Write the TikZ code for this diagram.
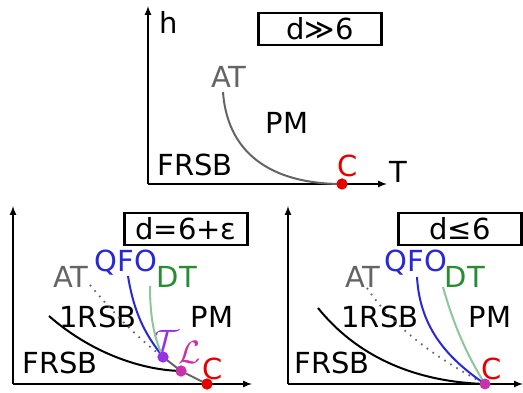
\documentclass[tikz,border=0pt]{standalone}
\usepackage{fontspec}
\setmainfont{DejaVu Sans}
\usepackage{amsmath}
\usepackage{amssymb}

\definecolor{crit}{RGB}{230,0,0}
\definecolor{qfo}{RGB}{40,40,215}
\definecolor{dtlabel}{RGB}{40,140,50}
\definecolor{dtline}{RGB}{140,200,150}
\definecolor{atgray}{RGB}{100,100,100}
\definecolor{tpur}{RGB}{150,50,230}
\definecolor{lmag}{RGB}{200,50,170}

\begin{document}
\begin{tikzpicture}
        [
            x=1pt, y=-1pt,
            every node/.style = {font=\fontsize{29}{33}\selectfont, inner sep=0pt},
            axis/.style       = {draw, line width=2pt, -latex},
            boxed/.style      = {shape=rectangle, draw, line width=2.5pt, minimum width=123pt, minimum height=32pt},
            phase/.style      = {line width=2pt},
            border/.style     = {line width=1.8pt, atgray, dash pattern=on 1.6pt off 5.5pt},
            dot/.style        = {shape=circle, minimum size=11pt},
            pointlab/.style   = {scale=1.3},
            ]
            \useasboundingbox (0,0) rectangle (523,393);
            % top panel, d >> 6
            \coordinate (o1) at (148,184);
            \coordinate (y1) at (148,6);
            \coordinate (x1) at (387,184);
            \draw [axis] (o1) -- (y1);
            \draw [axis] (o1) -- (x1);
            \node (h1) at (169,22) {h};
            \node (t1) at (398,172) {T};
            \node [boxed] (box1) at (320,29) {d≫6};
            \node [atgray] (at1) at (229,77) {AT};
            \node (pm1) at (287,123) {PM};
            \node (frsb1) at (195,165) {FRSB};
            \node [crit] (clab1) at (348,166) {C};
            \node [dot, fill=crit] (c1) at (342,184) {};
            \coordinate (a1) at (223,92);
            \draw [phase, atgray] (a1) .. controls (228,160) and (280,184) .. (c1.center);
            \node [dot, fill=crit] at (c1) {};
            % bottom left panel, d = 6 + eps
            \coordinate (o2) at (13,384);
            \coordinate (y2) at (13,206);
            \coordinate (x2) at (252,384);
            \draw [axis] (o2) -- (y2);
            \draw [axis] (o2) -- (x2);
            \node [boxed] (box2) at (186,229) {d=6+ε};
            \node [atgray] (at2) at (71,277) {AT};
            \node [qfo] (qfo2) at (126,263) {QFO};
            \node [dtlabel] (dt2) at (177,277) {DT};
            \node (rsb2) at (98,317) {1RSB};
            \node (pm2) at (212,317) {PM};
            \node (frsb2) at (60,363) {FRSB};
            \node [crit] (clab2) at (213,369) {C};
            \node [tpur, pointlab] (tlab2) at (166,341) {$\mathcal{T}$};
            \node [lmag, pointlab] (llab2) at (190,352) {$\mathcal{L}$};
            \coordinate (a2) at (90,285);
            \coordinate (q2) at (128,276);
            \coordinate (d2) at (150,286);
            \coordinate (b2) at (49,316);
            \node [dot, fill=tpur] (tp2) at (163,357) {};
            \node [dot, fill=lmag] (lp2) at (181,371) {};
            \node [dot, fill=crit] (c2) at (207,384) {};
            \draw [phase, atgray] (tp2.center) -- (lp2.center) -- (c2.center);
            \draw [phase] (b2) .. controls (90,352) and (140,370) .. (lp2.center);
            \draw [border] (a2) .. controls (115,315) and (140,340) .. (tp2.center);
            \draw [phase, qfo] (q2) .. controls (135,320) and (150,340) .. (tp2.center);
            \draw [phase, dtline] (d2) .. controls (150,320) and (155,340) .. (tp2.center);
            \node [dot, fill=tpur] at (tp2) {};
            \node [dot, fill=lmag] at (lp2) {};
            \node [dot, fill=crit] at (c2) {};
            % bottom right panel, d <= 6
            \coordinate (o3) at (288,384);
            \coordinate (y3) at (288,206);
            \coordinate (x3) at (523,384);
            \draw [axis] (o3) -- (y3);
            \draw [axis] (o3) -- (x3);
            \node [boxed] (box3) at (460,229) {d≤6};
            \node [atgray] (at3) at (363,277) {AT};
            \node [qfo] (qfo3) at (416,263) {QFO};
            \node [dtlabel] (dt3) at (465,277) {DT};
            \node (rsb3) at (380,317) {1RSB};
            \node (pm3) at (490,317) {PM};
            \node (frsb3) at (332,363) {FRSB};
            \node [crit] (clab3) at (492,369) {C};
            \coordinate (a3) at (367,288);
            \coordinate (q3) at (417,277);
            \coordinate (d3) at (443,287);
            \coordinate (b3) at (318,308);
            \coordinate (c3) at (485,384);
            \draw [phase] (b3) .. controls (360,360) and (420,382) .. (c3);
            \draw [border] (a3) .. controls (395,330) and (440,360) .. (c3);
            \draw [phase, qfo] (q3) .. controls (420,330) and (450,360) .. (c3);
            \draw [phase, dtline] (d3) .. controls (455,330) and (470,360) .. (c3);
            \node [dot, fill=lmag] (cp3) at (c3) {};
\end{tikzpicture}
\end{document}
